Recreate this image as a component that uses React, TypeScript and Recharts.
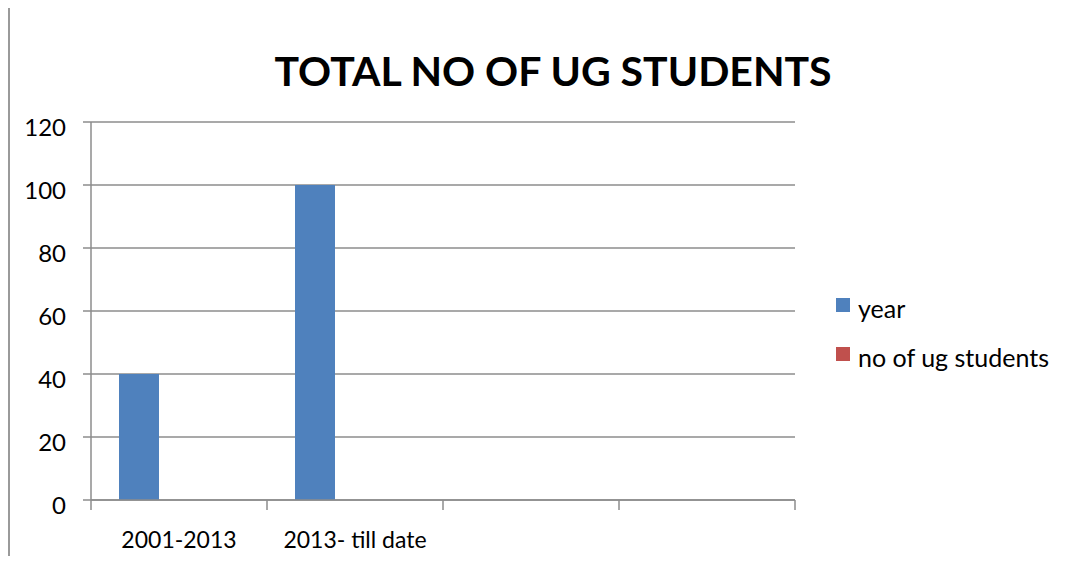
import { Bar, BarChart, CartesianGrid, XAxis, YAxis } from "recharts";

const categories = ["2001-2013", "2013- till date", "", ""];
const yearValues = [40, 100, null, null];
const ugStudents = [0, 0, null, null];
// the sheet had a third, empty column that still takes a slot in each group
const blankValues = [null, null, null, null];
const yTicks = [0, 20, 40, 60, 80, 100, 120];

const seriesLegend = [
  { name: "year", color: "#4F81BD" },
  { name: "no of ug students", color: "#C0504D" },
];

const chartData = categories.map((label, i) => ({
  label,
  year: yearValues[i],
  ug: ugStudents[i],
  blank: blankValues[i],
}));

const FONT = "Lato, 'Open Sans', sans-serif";
const GRID = "#8c8c8c";
const BAND = 176;

// Excel puts the x tick marks between categories, not under their centres
function CategoryTick(props: any) {
  const { x, y, payload, index } = props;
  const last = index === categories.length - 1;
  return (
    <g>
      <line x1={x - BAND / 2} y1={y - 8} x2={x - BAND / 2} y2={y + 2} stroke={GRID} strokeWidth={1.5} />
      {last && (
        <line x1={x + BAND / 2} y1={y - 8} x2={x + BAND / 2} y2={y + 2} stroke={GRID} strokeWidth={1.5} />
      )}
      <text x={x} y={y + 40} textAnchor="middle" fill="#000" fontSize={23} fontFamily={FONT}>
        {payload.value}
      </text>
    </g>
  );
}

function LegendBox() {
  return (
    <div
      style={{
        position: "absolute",
        left: 836,
        top: 283,
        fontFamily: FONT,
        fontSize: 25,
        color: "#000",
        whiteSpace: "nowrap",
      }}
    >
      {seriesLegend.map((s) => (
        <div key={s.name} style={{ display: "flex", alignItems: "center", height: 49 }}>
          <span style={{ width: 14, height: 14, background: s.color, marginRight: 8, marginTop: -6 }} />
          <span>{s.name}</span>
        </div>
      ))}
    </div>
  );
}

export default function App() {
  return (
    <div
      style={{
        position: "absolute",
        left: 0,
        top: 0,
        width: 1070,
        height: 562,
        background: "#fff",
        fontFamily: FONT,
      }}
    >
      <div style={{ position: "absolute", left: 8, top: 8, width: 1.5, height: 548, background: "#9a9a9a" }} />
      <div
        style={{
          position: "absolute",
          left: 0,
          top: 46,
          width: 1106,
          textAlign: "center",
          fontSize: 41,
          fontWeight: 700,
          color: "#000",
        }}
      >
        TOTAL NO OF UG STUDENTS
      </div>
      <BarChart
        width={1070}
        height={562}
        data={chartData}
        margin={{ top: 122, right: 275, left: 0, bottom: 0 }}
        barSize={40}
        barGap={0}
        barCategoryGap={28}
      >
        <CartesianGrid vertical={false} stroke={GRID} strokeWidth={1.5} />
        <XAxis
          dataKey="label"
          height={62}
          stroke={GRID}
          strokeWidth={1.5}
          tickLine={false}
          tick={<CategoryTick />}
          interval={0}
        />
        <YAxis
          width={91}
          domain={[0, 120]}
          ticks={yTicks}
          stroke={GRID}
          strokeWidth={1.5}
          tickSize={8}
          tickMargin={17}
          tick={{ fill: "#000", fontSize: 24, fontFamily: FONT, dy: 5 }}
        />
        <Bar dataKey="year" name="year" fill="#4F81BD" isAnimationActive={false} />
        <Bar dataKey="ug" name="no of ug students" fill="#C0504D" isAnimationActive={false} />
        <Bar dataKey="blank" fill="#9BBB59" legendType="none" isAnimationActive={false} />
      </BarChart>
      <LegendBox />
    </div>
  );
}
